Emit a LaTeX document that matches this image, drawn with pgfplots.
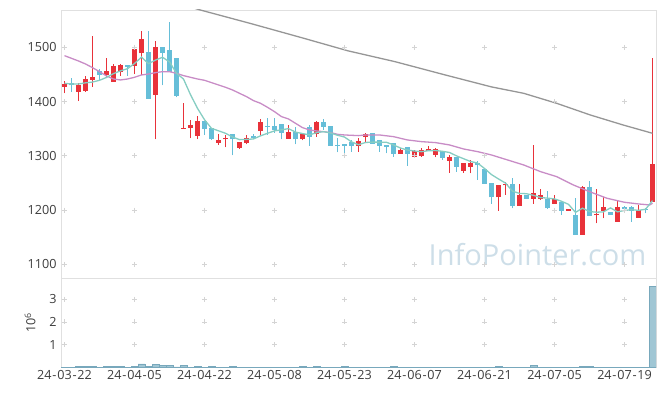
\documentclass[border=0pt]{standalone}
\usepackage{pgfplots}
\pgfplotsset{compat=1.18}
\usepackage{pgfplotstable}
\usepackage{fontspec}
\setmainfont{Open Sans}
\definecolor{cred}{RGB}{232,50,58}
\definecolor{cblue}{RGB}{102,190,216}
\definecolor{cteal}{RGB}{134,205,194}
\definecolor{cpurple}{RGB}{200,140,198}
\definecolor{cgray}{RGB}{150,150,150}
\definecolor{cframe}{RGB}{224,224,224}
\definecolor{ccross}{RGB}{212,212,212}
\definecolor{cvol}{RGB}{160,198,212}
\definecolor{cvoledge}{RGB}{120,168,188}
\definecolor{cwater}{RGB}{205,222,232}
\definecolor{ctext}{RGB}{60,60,60}

% rising candles (red)
\pgfplotstableread{
i O H L C
0 1427.5 1437.9 1415.2 1432.4
2 1418.3 1433.6 1401.0 1430.6
3 1420.1 1447.2 1418.3 1441.0
4 1439.8 1520.9 1427.5 1445.3
6 1449.0 1479.7 1442.9 1456.4
7 1436.7 1469.3 1436.7 1465.6
8 1455.1 1469.3 1447.2 1466.8
10 1466.2 1501.2 1450.8 1496.9
11 1488.9 1530.1 1449.0 1515.4
13 1412.1 1511.1 1330.4 1500.6
17 1350.1 1396.8 1350.1 1351.3
18 1351.9 1366.0 1332.3 1356.8
19 1337.2 1373.4 1330.4 1364.2
22 1324.3 1339.6 1320.0 1329.2
23 1330.4 1338.4 1315.7 1333.5
25 1315.1 1325.5 1313.2 1325.5
26 1324.3 1338.4 1321.2 1332.9
28 1346.4 1367.3 1338.4 1362.4
32 1331.6 1356.8 1331.6 1344.0
34 1330.4 1342.8 1328.6 1340.2
36 1340.8 1364.8 1335.3 1363.0
42 1318.7 1333.5 1307.7 1327.3
43 1335.3 1341.5 1323.1 1339.6
48 1303.4 1313.9 1303.4 1310.8
50 1298.5 1310.8 1296.6 1309.5
51 1299.7 1313.9 1298.5 1310.8
52 1309.5 1318.1 1309.5 1312.6
53 1301.5 1313.9 1297.3 1312.0
55 1290.4 1301.5 1268.9 1298.5
57 1272.7 1287.4 1268.9 1286.2
58 1280.0 1292.3 1267.7 1286.2
62 1223.5 1246.2 1198.9 1246.2
63 1245.6 1252.4 1227.8 1248.1
65 1208.1 1247.5 1208.1 1227.8
67 1220.4 1319.4 1211.2 1230.9
68 1220.4 1238.2 1218.6 1227.8
70 1211.2 1227.8 1211.2 1220.4
72 1198.9 1202.5 1198.9 1202.0
74 1154.0 1244.4 1154.0 1241.9
76 1190.3 1238.2 1175.6 1192.8
77 1198.9 1224.7 1184.8 1205.1
79 1178.6 1217.4 1178.6 1205.1
82 1186.0 1209.4 1186.0 1200.2
84 1214.3 1479.7 1214.3 1284.9
}\up

% falling candles (blue)
\pgfplotstableread{
i O H L C
1 1433.6 1442.9 1418.3 1430.0
5 1456.4 1459.4 1437.9 1449.0
9 1467.0 1468.0 1447.2 1464.0
12 1492.0 1530.1 1404.8 1404.8
14 1500.6 1500.6 1430.0 1490.2
15 1495.1 1546.7 1455.1 1455.1
16 1480.3 1480.3 1407.8 1410.3
20 1364.2 1364.2 1338.4 1350.1
21 1351.3 1351.3 1329.2 1330.4
24 1339.6 1339.6 1300.9 1330.4
27 1336.6 1339.6 1331.6 1332.9
29 1355.0 1369.1 1338.4 1353.8
30 1355.0 1369.1 1342.8 1347.7
31 1358.8 1358.8 1330.4 1342.8
33 1344.0 1353.8 1321.2 1330.4
35 1352.5 1356.8 1318.1 1335.3
37 1363.0 1367.9 1347.7 1353.8
38 1355.0 1355.0 1318.7 1318.7
39 1320.0 1333.5 1306.4 1318.7
40 1321.8 1321.8 1298.5 1318.7
41 1326.1 1329.2 1307.7 1318.7
44 1341.5 1341.5 1321.8 1321.8
45 1329.2 1329.2 1307.7 1318.7
46 1320.0 1320.0 1304.6 1316.9
47 1323.1 1324.3 1298.5 1303.4
49 1316.9 1316.9 1281.3 1303.4
54 1309.5 1309.5 1292.3 1296.6
56 1298.5 1298.5 1270.8 1280.0
59 1286.2 1291.1 1255.4 1282.5
60 1275.7 1275.7 1248.1 1248.1
61 1250.5 1250.5 1211.2 1223.5
64 1248.1 1258.5 1203.2 1208.1
66 1227.8 1227.8 1220.4 1220.4
69 1220.4 1235.8 1202.0 1203.2
71 1215.5 1215.5 1190.9 1198.9
73 1190.9 1221.7 1154.0 1154.0
75 1241.9 1253.6 1189.1 1189.1
78 1195.9 1197.1 1190.9 1190.9
80 1205.1 1207.5 1195.2 1202.6
81 1205.1 1207.5 1178.6 1198.9
83 1202.0 1203.2 1194.0 1200.2
}\down

% volume (10^6)
\pgfplotstableread{
i v
0 0.005
1 0.005
2 0.04
3 0.04
4 0.04
5 0.005
6 0.04
7 0.04
8 0.04
9 0.005
10 0.05
11 0.15
12 0.05
13 0.14
14 0.10
15 0.10
16 0.02
17 0.10
18 0.005
19 0.04
20 0.005
21 0.04
22 0.005
23 0.005
24 0.04
25 0.005
26 0.005
27 0.005
28 0.005
29 0.005
30 0.005
31 0.005
32 0.005
33 0.005
34 0.04
35 0.005
36 0.04
37 0.005
38 0.005
39 0.005
40 0.04
41 0.005
42 0.005
43 0.005
44 0.005
45 0.005
46 0.005
47 0.04
48 0.005
49 0.005
50 0.005
51 0.005
52 0.005
53 0.005
54 0.005
55 0.005
56 0.005
57 0.005
58 0.005
59 0.005
60 0.005
61 0.005
62 0.04
63 0.005
64 0.005
65 0.005
66 0.005
67 0.10
68 0.005
69 0.005
70 0.005
71 0.005
72 0.005
73 0.005
74 0.04
75 0.04
76 0.005
77 0.005
78 0.005
79 0.005
80 0.005
81 0.005
82 0.005
83 0.005
84 3.57
}\vol

\newcommand\dt[3]{#1\kern0.8pt-\kern0.8pt#2\kern0.8pt-\kern0.8pt#3}

\begin{document}
\begin{tikzpicture}[x=1bp,y=1bp]
\useasboundingbox (0,0) rectangle (665,396);
\node[anchor=base west, inner sep=0, text=cwater, font=\fontsize{29bp}{33bp}\selectfont] at (428.5,130.3) {InfoPointer.com};

\begin{axis}[
  at={(61bp,118bp)}, anchor=south west,
  scale only axis, width=595bp, height=268bp,
  xmin=-0.5, xmax=84.5, ymin=1074.7, ymax=1568.8,
  axis line style={cframe, line width=0.8bp},
  xtick={0,10,...,80}, xticklabels={},
  ytick={1100,1200,1300,1400,1500},
  major tick length=0,
  tick label style={font=\fontsize{12.6bp}{15bp}\selectfont, text=ctext},
  /pgf/number format/assume math mode=true,
  /pgf/number format/set thousands separator={},
  yticklabel style={xshift=-1bp},
  clip=true,
]
\addplot[only marks, mark=+, mark size=2.5bp, ccross, line width=0.6bp, forget plot] coordinates {
(0,1100)(0,1200)(0,1300)(0,1400)(0,1500)
(10,1100)(10,1200)(10,1300)(10,1400)(10,1500)
(20,1100)(20,1200)(20,1300)(20,1400)(20,1500)
(30,1100)(30,1200)(30,1300)(30,1400)(30,1500)
(40,1100)(40,1200)(40,1300)(40,1400)(40,1500)
(50,1100)(50,1200)(50,1300)(50,1400)(50,1500)
(60,1100)(60,1200)(60,1300)(60,1400)(60,1500)
(70,1100)(70,1200)(70,1300)(70,1400)(70,1500)
(80,1100)(80,1200)(80,1300)(80,1400)(80,1500)
};
% wicks
\addplot[draw=none, no markers, forget plot, error bars/.cd, y dir=plus, y explicit, error mark=none, error bar style={line width=1.1bp, draw=cred}]
  table[x=i, y=L, y error plus expr=\thisrow{H}-\thisrow{L}] {\up};
\addplot[draw=none, no markers, forget plot, error bars/.cd, y dir=plus, y explicit, error mark=none, error bar style={line width=1.1bp, draw=cblue}]
  table[x=i, y=L, y error plus expr=\thisrow{H}-\thisrow{L}] {\down};
% bodies
\addplot[draw=none, no markers, forget plot, error bars/.cd, y dir=plus, y explicit, error mark=none, error bar style={line width=5bp, draw=cred}]
  table[x=i, y=O, y error plus expr=\thisrow{C}-\thisrow{O}] {\up};
\addplot[draw=none, no markers, forget plot, error bars/.cd, y dir=plus, y explicit, error mark=none, error bar style={line width=5bp, draw=cblue}]
  table[x=i, y=C, y error plus expr=\thisrow{O}-\thisrow{C}] {\down};
% MA120
\addplot[cgray, line width=1.3bp, mark=none] coordinates {
(14,1590)(19.4,1568.8)(26.5,1544.2)(33.7,1518.4)(40.5,1493.5)(47.2,1473.6)(54.4,1449)(61,1427)(65.6,1415.2)(70.3,1396.8)(75.1,1375.3)(79.8,1356.8)(84,1341.5)
};
% MA20
\addplot[cpurple, line width=1.3bp, mark=none] coordinates {
(0,1484.6)(1,1479.7)(2,1474.8)(3,1469.3)(4,1462.5)(5,1455.1)(6,1447.2)(7,1441.6)(8,1439.8)(9,1441.6)(10,1444.7)(11,1449.0)(12,1450.8)(13,1453.3)(14,1455.1)(15,1455.1)(16,1452.1)(17,1447.8)(18,1444.7)(19,1441.6)(20,1439.2)(21,1434.9)(22,1430.6)(23,1426.3)(24,1421.4)(25,1415.2)(26,1409.1)(27,1401.7)(28,1396.8)(29,1389.4)(30,1381.4)(31,1372.2)(32,1367.9)(33,1359.9)(34,1351.9)(35,1347.6)(36,1345.8)(37,1344.5)(38,1342.7)(39,1339.6)(40,1338.4)(41,1337.8)(42,1337.2)(43,1338.4)(45,1338.4)(47,1335.3)(49,1329.2)(51,1326.1)(53,1324.3)(55,1320.0)(57,1312.6)(59,1307.7)(61,1301.5)(63,1293.5)(65.6,1283.1)(68,1270.8)(70.3,1261.6)(72.7,1246.2)(75,1233.9)(77.5,1221.7)(80,1214.3)(82,1211.2)(83.6,1209.4)(84,1212.5)
};
% MA5
\addplot[cteal, line width=1.3bp, mark=none] coordinates {
(0,1433.6)(1,1432.4)(2,1432.4)(3,1434.5)(4,1435.9)(5,1439.2)(6,1444.5)(7,1451.5)(8,1456.6)(9,1460.6)(10,1470.1)(11,1481.9)(12,1469.8)(13,1476.5)(14,1481.6)(15,1473.2)(16,1452.2)(17,1441.5)(18,1412.7)(19,1387.5)(20,1366.5)(21,1350.6)(22,1346.1)(23,1341.5)(24,1334.7)(25,1329.8)(26,1330.3)(27,1331.0)(28,1336.8)(29,1341.5)(30,1345.9)(31,1347.9)(32,1350.1)(33,1343.7)(34,1341.0)(35,1338.5)(36,1342.6)(37,1344.5)(38,1342.2)(39,1337.9)(40,1334.6)(41,1325.7)(42,1320.4)(43,1324.6)(44,1325.2)(45,1325.2)(46,1324.9)(47,1320.1)(48,1314.3)(49,1310.6)(50,1308.8)(51,1307.6)(52,1309.4)(53,1309.7)(54,1308.3)(55,1306.1)(56,1299.9)(57,1294.7)(58,1289.5)(59,1286.7)(60,1276.6)(61,1265.3)(62,1257.3)(63,1249.7)(64,1234.8)(65,1230.7)(66,1230.1)(67,1227.1)(68,1223.0)(69,1222.0)(70,1220.5)(71,1216.2)(72,1210.5)(73,1195.7)(74,1203.4)(75,1197.2)(76,1196.0)(77,1196.6)(78,1204.0)(79,1196.6)(80,1199.3)(81,1200.5)(82,1199.5)(83,1201.4)(84,1217.4)
};
\end{axis}

\begin{axis}[
  at={(61bp,28.7bp)}, anchor=south west,
  scale only axis, width=595bp, height=89.3bp,
  xmin=-0.5, xmax=84.5, ymin=0, ymax=3.93,
  axis line style={cframe, line width=0.8bp},
  xtick={0,10,...,80},
  xticklabels={\dt{24}{03}{22},\dt{24}{04}{05},\dt{24}{04}{22},\dt{24}{05}{08},\dt{24}{05}{23},\dt{24}{06}{07},\dt{24}{06}{21},\dt{24}{07}{05},\dt{24}{07}{19}},
  ytick={1,2,3},
  major tick length=0,
  tick label style={font=\fontsize{12.6bp}{15bp}\selectfont, text=ctext},
  /pgf/number format/assume math mode=true,
  yticklabel style={xshift=-1bp},
  scaled y ticks=false,
  ylabel={10\textsuperscript{6}},
  ylabel style={at={(axis description cs:-0.052,0.5)}, anchor=center, font=\fontsize{12.6bp}{15bp}\selectfont, text=ctext},
  clip=true,
]
\addplot[only marks, mark=+, mark size=2.5bp, ccross, line width=0.6bp, forget plot] coordinates {
(0,1)(0,2)(0,3)(10,1)(10,2)(10,3)(20,1)(20,2)(20,3)(30,1)(30,2)(30,3)(40,1)(40,2)(40,3)
(50,1)(50,2)(50,3)(60,1)(60,2)(60,3)(70,1)(70,2)(70,3)(80,1)(80,2)(80,3)
};
\addplot[ybar, bar width=6.6bp, bar shift=0bp, fill=cvol, draw=cvoledge, line width=0.5bp] table[x=i, y=v] {\vol};
\end{axis}
\end{tikzpicture}
\end{document}
